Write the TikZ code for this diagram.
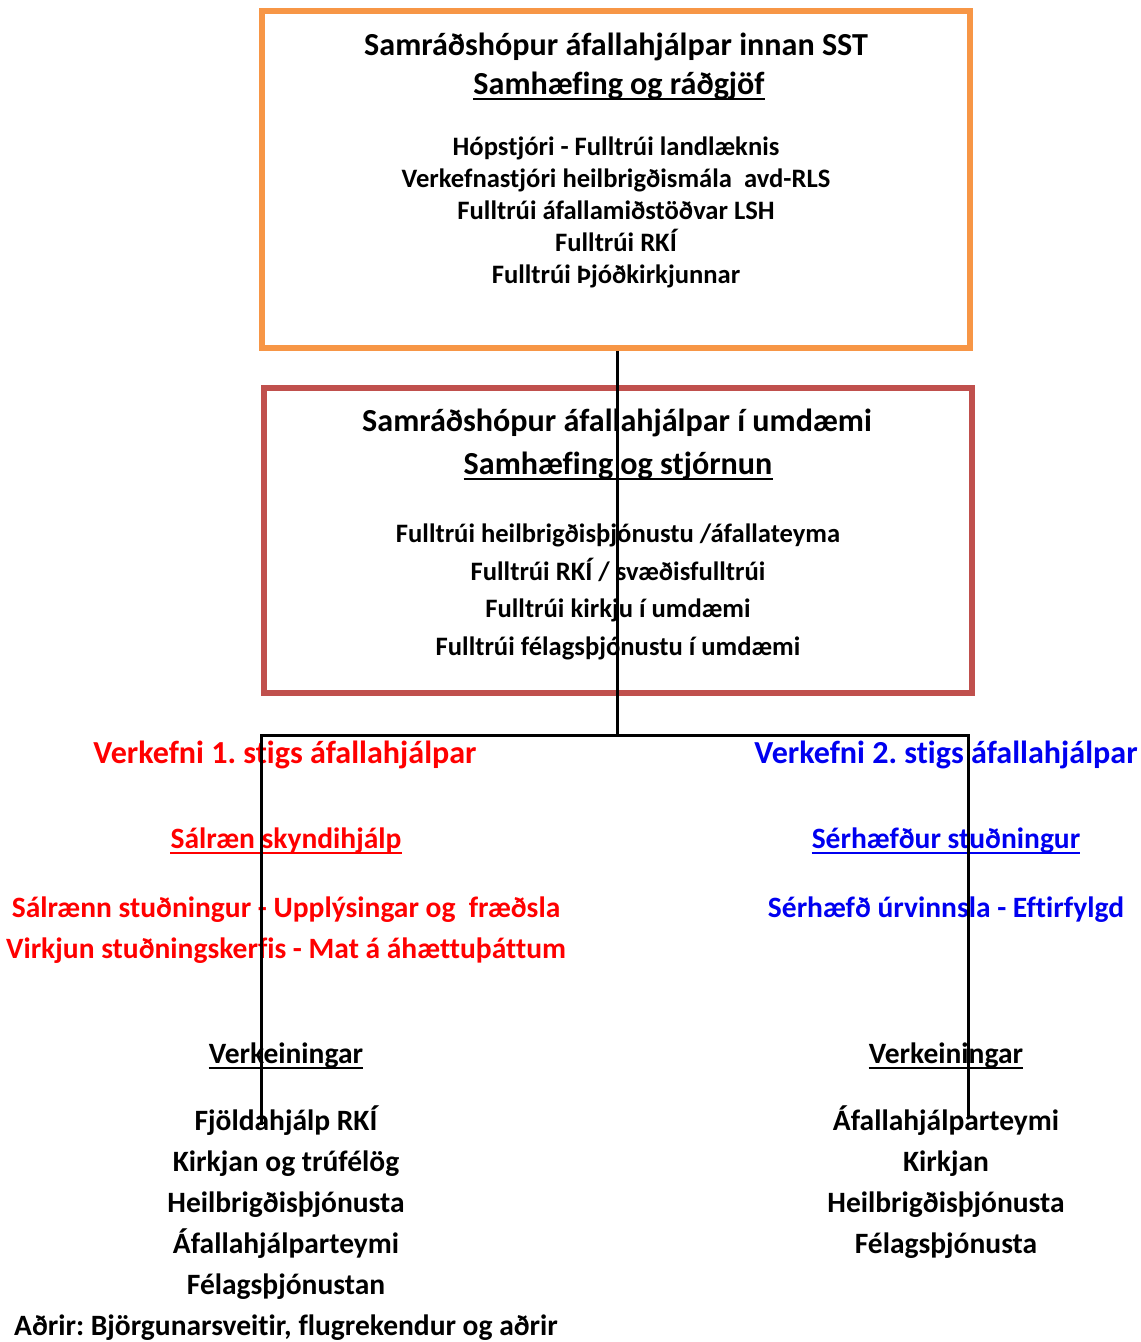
\documentclass[tikz,border=0pt]{standalone}
\usepackage{fontspec}
\setmainfont{Carlito}[Ligatures=NoCommon]
\frenchspacing
\definecolor{boxorange}{HTML}{F79646}
\definecolor{boxred}{HTML}{C0504D}
\definecolor{txtred}{HTML}{FF0000}
\definecolor{txtblue}{HTML}{0000F0}
\begin{document}
\begin{tikzpicture}[x=1pt,y=-1pt,
  txt/.style={inner sep=0pt, anchor=base, font=\bfseries\fontsize{26.6}{30}\selectfont},
  big/.style={txt, font=\bfseries\fontsize{32.1}{36}\selectfont},
  mid/.style={txt, font=\bfseries\fontsize{29.5}{34}\selectfont},
  frame/.style={line width=5.5pt, minimum width=708pt, inner sep=0pt, fill=none},
  conn/.style={line width=3pt, black, line join=miter},
  uline/.style={line width=2pt}]
\useasboundingbox (0,0) rectangle (1141,1342);
\fill[white] (0,0) rectangle (1141,1342);
% boxes
\node[frame, draw=boxorange, minimum height=337pt] (top) at (616,179.5) {};
\node[frame, draw=boxred, minimum height=305pt] (mid) at (618,540.5) {};
% top box texts
\node[big] (t1) at (616,55) {Samráðshópur áfallahjálpar innan SST};
\node[big] (t2) at (619,94) {Samhæfing og ráðgjöf};
\draw[uline] ([yshift=-4.5pt]t2.base west) -- ([yshift=-4.5pt]t2.base east);
\node[txt] (t3) at (616,155) {Hópstjóri - Fulltrúi landlæknis};
\node[txt] (t4) at (616,187) {Verkefnastjóri heilbrigðismála\ \ avd-RLS};
\node[txt] (t5) at (616,219) {Fulltrúi áfallamiðstöðvar LSH};
\node[txt] (t6) at (616,251) {Fulltrúi RKÍ};
\node[txt] (t7) at (616,283) {Fulltrúi Þjóðkirkjunnar};
% red box texts
\node[big] (r1) at (617,431) {Samráðshópur áfallahjálpar í umdæmi};
\node[big] (r2) at (618,474) {Samhæfing og stjórnun};
\draw[uline] ([yshift=-4.5pt]r2.base west) -- ([yshift=-4.5pt]r2.base east);
\node[txt] (r3) at (618,542) {Fulltrúi heilbrigðisþjónustu /áfallateyma};
\node[txt] (r4) at (618,580) {Fulltrúi RKÍ / svæðisfulltrúi};
\node[txt] (r5) at (618,617) {Fulltrúi kirkju í umdæmi};
\node[txt] (r6) at (618,655) {Fulltrúi félagsþjónustu í umdæmi};
% left branch
\node[big, txtred] (v1) at (285,763) {Verkefni 1. stigs áfallahjálpar};
\node[mid, txtred] (v2) at (286,848) {Sálræn skyndihjálp};
\draw[uline, txtred] ([yshift=-4.5pt]v2.base west) -- ([yshift=-4.5pt]v2.base east);
\node[mid, txtred] (v3) at (286,917) {Sálrænn stuðningur - Upplýsingar og\ \ fræðsla};
\node[mid, txtred] (v4) at (286,958) {Virkjun stuðningskerfis - Mat á áhættuþáttum};
\node[mid] (lv) at (286,1063) {Verkeiningar};
\draw[uline] ([yshift=-4.5pt]lv.base west) -- ([yshift=-4.5pt]lv.base east);
\node[mid] (l1) at (286,1130) {Fjöldahjálp RKÍ};
\node[mid] (l2) at (286,1171) {Kirkjan og trúfélög};
\node[mid] (l3) at (286,1212) {Heilbrigðisþjónusta};
\node[mid] (l4) at (286,1253) {Áfallahjálparteymi};
\node[mid] (l5) at (286,1294) {Félagsþjónustan};
\node[mid] (l6) at (286,1335) {Aðrir: Björgunarsveitir, flugrekendur og aðrir};
% right branch
\node[big, txtblue] (w1) at (946,763) {Verkefni 2. stigs áfallahjálpar};
\node[mid, txtblue] (w2) at (946,848) {Sérhæfður stuðningur};
\draw[uline, txtblue] ([yshift=-4.5pt]w2.base west) -- ([yshift=-4.5pt]w2.base east);
\node[mid, txtblue] (w3) at (946,917) {Sérhæfð úrvinnsla - Eftirfylgd};
\node[mid] (rv) at (946,1063) {Verkeiningar};
\draw[uline] ([yshift=-4.5pt]rv.base west) -- ([yshift=-4.5pt]rv.base east);
\node[mid] (m1) at (946,1130) {Áfallahjálparteymi};
\node[mid] (m2) at (946,1171) {Kirkjan};
\node[mid] (m3) at (946,1212) {Heilbrigðisþjónusta};
\node[mid] (m4) at (946,1253) {Félagsþjónusta};
% connectors
\coordinate (j) at (617,735);
\coordinate (lend) at (261,1125);
\coordinate (rend) at (968,1118);
\draw[conn] (top.south -| j) -- (j);
\draw[conn] (lend) |- (j) -| (rend);
\end{tikzpicture}
\end{document}
